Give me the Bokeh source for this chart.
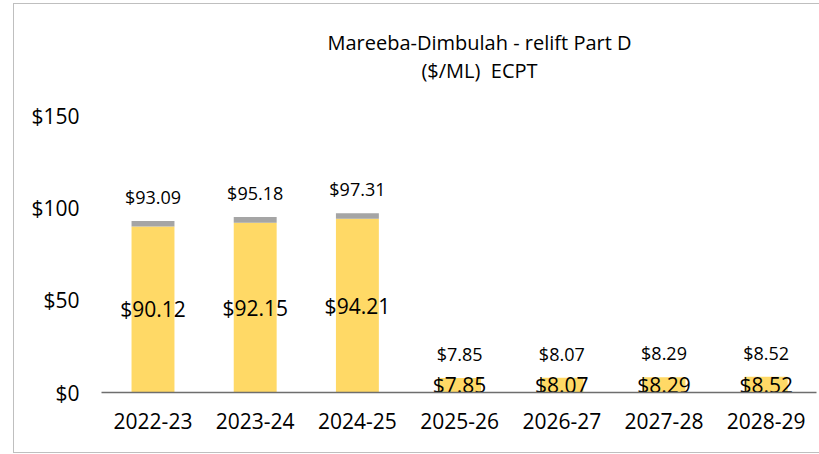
from bokeh.plotting import figure
from bokeh.models import ColumnDataSource, Range1d, FixedTicker, InlineStyleSheet
from bokeh.core.properties import value
from bokeh.embed import file_html
from bokeh.resources import INLINE

categories = ["2022-23", "2023-24", "2024-25", "2025-26", "2026-27", "2027-28", "2028-29"]
part_d = [90.12, 92.15, 94.21, 7.85, 8.07, 8.29, 8.52]
totals = [93.09, 95.18, 97.31, 7.85, 8.07, 8.29, 8.52]
y_ticks = [0, 50, 100, 150]
y_tick_labels = ["$0", "$50", "$100", "$150"]
title_lines = ["Mareeba-Dimbulah - relift Part D", "($/ML)\u00a0\u00a0ECPT"]

FONT = "Open Sans"
YELLOW = "#FFD966"
GREY = "#A5A5A5"

xs = list(range(len(categories)))
src = ColumnDataSource(dict(
    x=xs,
    part=part_d,
    total=totals,
    mid=[v / 2 for v in part_d],
    part_lbl=[f"${v:.2f}" for v in part_d],
    total_lbl=[f"${v:.2f}" for v in totals],
))

px_per_unit = 1.843
frame_h = 392
W, H = 819, 454
left_b = 101
x0_px = 152.5
step = 102.2
right_b = 3
xr0 = (left_b - x0_px) / step
xr1 = (W - right_b - x0_px) / step

border_css = InlineStyleSheet(css=""":host::after {
  content: ""; position: absolute; left: 13px; top: 3px; right: 0px; bottom: 1px;
  border: 1.5px solid #BFBFBF; border-right: none; pointer-events: none;
}""")

p = figure(width=W, height=H, output_backend="svg", toolbar_location=None,
           x_range=Range1d(xr0, xr1), y_range=Range1d(0, frame_h / px_per_unit),
           min_border_left=left_b, min_border_right=right_b, min_border_top=0,
           min_border_bottom=H - frame_h,
           background_fill_color="white", border_fill_color="white",
           stylesheets=[border_css])
p.outline_line_color = None
p.grid.visible = False

p.vbar(x="x", bottom=0, top="part", width=0.42, source=src, fill_color=YELLOW, line_color=None)
p.vbar(x="x", bottom="part", top="total", width=0.42, source=src, fill_color=GREY, line_color=None)

p.text(x="x", y="mid", text="part_lbl", source=src, text_align="center", text_baseline="middle",
       text_font=value(FONT), text_font_size="21px", text_color="#000000")
p.text(x="x", y="total", text="total_lbl", source=src, text_align="center", text_baseline="middle",
       y_offset=-24, text_font=value(FONT), text_font_size="18px", text_color="#000000")

# title (two lines)
tx = (479 - x0_px) / step
p.text(x=[tx, tx], y=[(frame_h - 42) / px_per_unit, (frame_h - 70) / px_per_unit], text=title_lines,
       text_align="center", text_baseline="middle", text_font=value(FONT), text_font_size="20px",
       text_color="#000000")

xa = p.xaxis[0]
xa.ticker = FixedTicker(ticks=xs)
xa.major_label_overrides = {i: c for i, c in enumerate(categories)}
xa.major_label_text_font = FONT
xa.major_label_text_font_size = "21px"
xa.major_label_text_color = "#000000"
xa.major_tick_line_color = None
xa.minor_tick_line_color = None
xa.major_tick_out = 0
xa.major_label_standoff = 20
xa.axis_line_color = "#6E6E6E"
xa.axis_line_width = 1.5

ya = p.yaxis[0]
ya.ticker = FixedTicker(ticks=y_ticks)
ya.major_label_overrides = {t: l for t, l in zip(y_ticks, y_tick_labels)}
ya.major_label_text_font = FONT
ya.major_label_text_font_size = "21px"
ya.major_label_text_color = "#000000"
ya.major_tick_line_color = None
ya.minor_tick_line_color = None
ya.major_tick_out = 0
ya.major_label_standoff = 22
ya.axis_line_color = None

open("out.html", "w").write(file_html(p, INLINE))
